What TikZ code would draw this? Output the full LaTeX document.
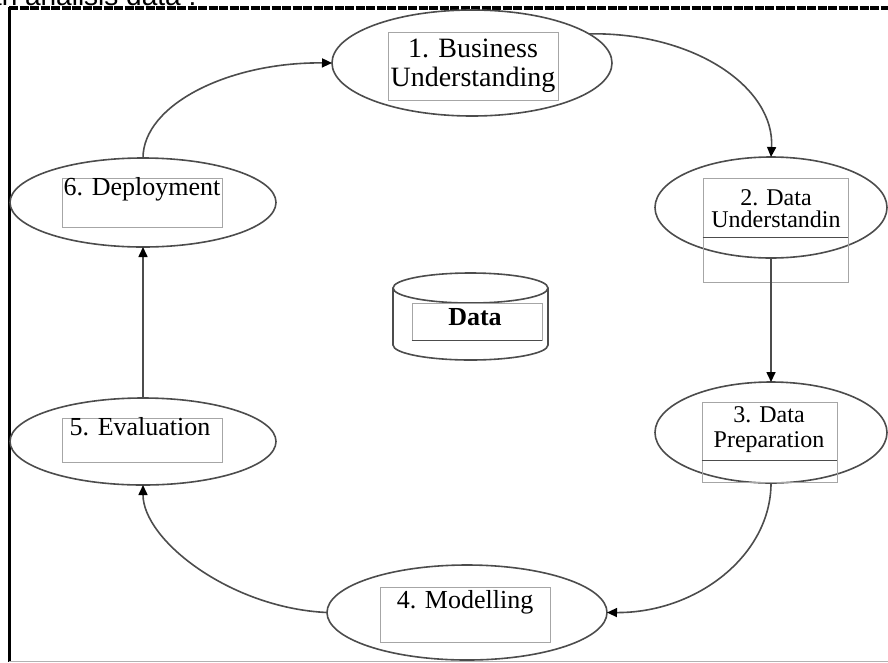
\documentclass[tikz,border=0pt]{standalone}
\usepackage{fontspec}
\setmainfont{Liberation Serif}
\newfontfamily\capfont{Liberation Sans}
\usetikzlibrary{shapes,arrows.meta,positioning,calc}

\begin{document}
\begin{tikzpicture}[x=1pt,y=-1pt,
    >={Triangle[length=10pt,width=9pt,color=black]},
    stage/.style={ellipse,draw=black!70,line width=1.6pt,inner sep=0pt,outer sep=0pt},
    framebox/.style={rectangle,draw=black!35,line width=0.8pt,inner sep=0pt},
    stagetext/.style={font=\fontsize{26}{28}\selectfont,align=center,inner sep=0pt},
    flow/.style={->,draw=black!70,line width=1.6pt}]
    \useasboundingbox (0,0) rectangle (888,662);

    % Caption (cut off at the top)
    \node[font=\capfont\fontsize{28}{30}\selectfont,anchor=base west,inner sep=0pt] (caption) at (-14,5) {an analisis data :};

    % Border
    \draw[line width=3.5pt,dash pattern=on 9pt off 1.5pt] (9,8) -- (888,8);
    \draw[line width=3pt] (9,6.5) -- (9,662);
    \draw[black!30,line width=1pt] (9,661) -- (888,661);

    % Stages
    \node[stage,minimum width=280pt,minimum height=106pt] (e1) at (472,63) {};
    \node[stage,minimum width=232pt,minimum height=101pt] (e2) at (771,207.5) {};
    \node[stage,minimum width=232pt,minimum height=101pt] (e3) at (771,432.5) {};
    \node[stage,minimum width=280pt,minimum height=95pt] (e4) at (467,612.5) {};
    \node[stage,minimum width=266pt,minimum height=87pt] (e5) at (143,441.5) {};
    \node[stage,minimum width=266pt,minimum height=89pt] (e6) at (143,202.5) {};

    % Text frames
    \node[framebox,minimum width=170pt,minimum height=68pt] (f1) at (473,66) {};
    \node[framebox,minimum width=145pt,minimum height=104pt] (f2) at (775.5,230) {};
    \node[framebox,minimum width=135pt,minimum height=80pt] (f3) at (769.5,442) {};
    \node[framebox,minimum width=170pt,minimum height=55pt] (f4) at (465,614.5) {};
    \node[framebox,minimum width=160pt,minimum height=44pt] (f5) at (142,440) {};
    \node[framebox,minimum width=160pt,minimum height=49pt] (f6) at (142,202.5) {};
    \draw[black!70,line width=1pt] (f2.west |- 0,237) -- (f2.east |- 0,237);
    \draw[black!70,line width=1pt] (f3.west |- 0,460) -- (f3.east |- 0,460);

    % Stage names
    \node[stagetext,font=\fontsize{28}{29}\selectfont] (t1) at (473,66) {1. Business\\Understanding};
    \node[stagetext,font=\fontsize{24}{22}\selectfont] (t2) at (776,209) {2. Data\\Understandin};
    \node[stagetext,font=\fontsize{24}{25}\selectfont] (t3) at (769,430) {3. Data\\Preparation};
    \node[stagetext,anchor=base] (t4) at (465,608) {4. Modelling};
    \node[stagetext,anchor=base] (t5) at (140,435) {5. Evaluation};
    \node[stagetext,anchor=base] (t6) at (142,195) {6. Deployment};

    % Data store
    \draw[draw=black!70,line width=1.6pt] (393,288) -- (393,345) arc[start angle=180,end angle=360,x radius=77.5pt,y radius=15pt] -- (548,288);
    \draw[draw=black!70,line width=1.6pt] (470.5,288) ellipse[x radius=77.5pt,y radius=15pt];
    \node[framebox,minimum width=130pt,minimum height=37pt] (fd) at (477,321.5) {};
    \draw[black!70,line width=1pt] (fd.south west) -- (fd.south east);
    \node[stagetext,anchor=base,font=\bfseries\fontsize{26}{28}\selectfont] (data) at (475,325) {Data};

    % Cycle
    \draw[flow] (e6.north) .. controls (143,105) and (228,62) .. (e1.west);
    \draw[flow] (e1.14) .. controls (695,32) and (775,88) .. (e2.north);
    \draw[flow] (e2.south) -- (e3.north);
    \draw[flow] (e3.south) .. controls (771,555) and (697,613) .. (e4.east);
    \draw[flow] (e4.west) .. controls (230,608) and (143,540) .. (e5.south);
    \draw[flow] (e5.north) -- (e6.south);
\end{tikzpicture}
\end{document}
